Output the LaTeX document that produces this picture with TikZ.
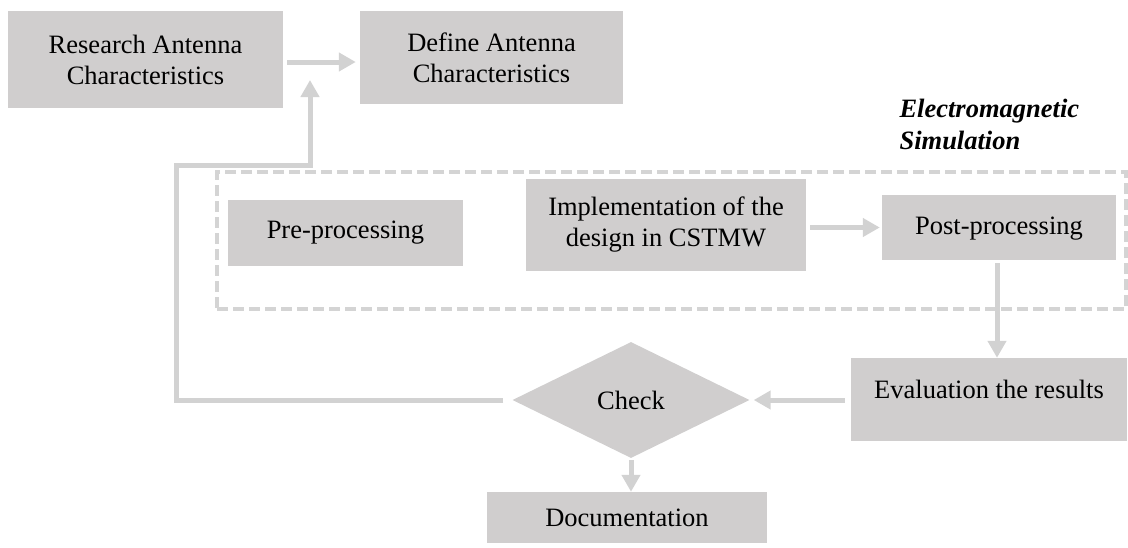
\documentclass[tikz,border=0pt]{standalone}
\usepackage{fontspec}
\setmainfont{Liberation Serif}
\usetikzlibrary{arrows.meta,shapes.geometric}
\definecolor{boxgray}{RGB}{208,206,206}
\definecolor{linegray}{RGB}{210,210,210}
\definecolor{dashgray}{RGB}{212,212,212}
\begin{document}
\begin{tikzpicture}[x=1pt,y=-1pt,
  every node/.style={font=\fontsize{26.5}{31}\selectfont},
  stepbox/.style={rectangle, fill=boxgray, draw=none, inner sep=0pt, align=center},
  decision/.style={diamond, fill=boxgray, draw=none, inner sep=0pt, aspect=2},
  simbox/.style={rectangle, draw=dashgray, line width=3.5pt, dash pattern=on 11pt off 5pt, inner sep=0pt},
  arr/.style={draw=linegray, line width=5pt, -{Triangle[length=17pt,width=18pt]}},
  plainline/.style={draw=linegray, line width=5pt}
]
\useasboundingbox (0,0) rectangle (1128,547);

% dashed group
\node[simbox, minimum width=909pt, minimum height=137pt] (sim) at (671.5,240.5) {};
\node[anchor=north west, align=left, font=\fontsize{26.5}{32}\selectfont\bfseries\itshape] (simlabel) at (896,96) {Electromagnetic\\Simulation};

% boxes
\node[stepbox, minimum width=275pt, minimum height=97pt] (res) at (145.5,59.5) {Research Antenna\\Characteristics};
\node[stepbox, minimum width=263pt, minimum height=93pt] (def) at (491.5,57.5) {Define Antenna\\Characteristics};
\node[stepbox, minimum width=235pt, minimum height=66pt] (pre) at (345.5,233) {Pre-processing};
\node[stepbox, minimum width=280pt, minimum height=92pt] (impl) at (666,225) {Implementation of the\\design in CSTMW};
\node[stepbox, minimum width=234pt, minimum height=65pt, text depth=4pt] (post) at (999,227.5) {Post-processing};
\node[stepbox, minimum width=276pt, minimum height=83pt, text depth=21pt] (eval) at (989,399.5) {Evaluation the results};
\node[decision, minimum width=237pt, minimum height=116pt] (chk) at (631,400) {Check};
\node[stepbox, minimum width=280pt, minimum height=51pt] (doc) at (627,517.5) {Documentation};

% feedback coordinates
\coordinate (fbA) at (176,400);
\coordinate (fbB) at (176,165);
\coordinate (fbC) at (310,165);
\coordinate (fbTip) at (310,80);

% connectors
\draw[arr, shorten <=4pt, shorten >=4pt] (res.east |- 0,62) -- (def.west |- 0,62);
\draw[arr, shorten <=9pt] (chk.west) -- (fbA) -- (fbB) -- (fbC) -- (fbTip);
\draw[arr, shorten <=4pt, shorten >=2pt] (impl.east |- post.west) -- (post.west);
\draw[arr, shorten <=3pt] (post.south) ++(-2,0) coordinate (pstart) (pstart) -- (pstart |- eval.north);
\draw[arr, shorten <=6pt, shorten >=4pt] (eval.west |- chk.east) -- (chk.east);
\draw[arr, shorten <=2pt] (chk.south) -- (chk.south |- doc.north);
\end{tikzpicture}
\end{document}
